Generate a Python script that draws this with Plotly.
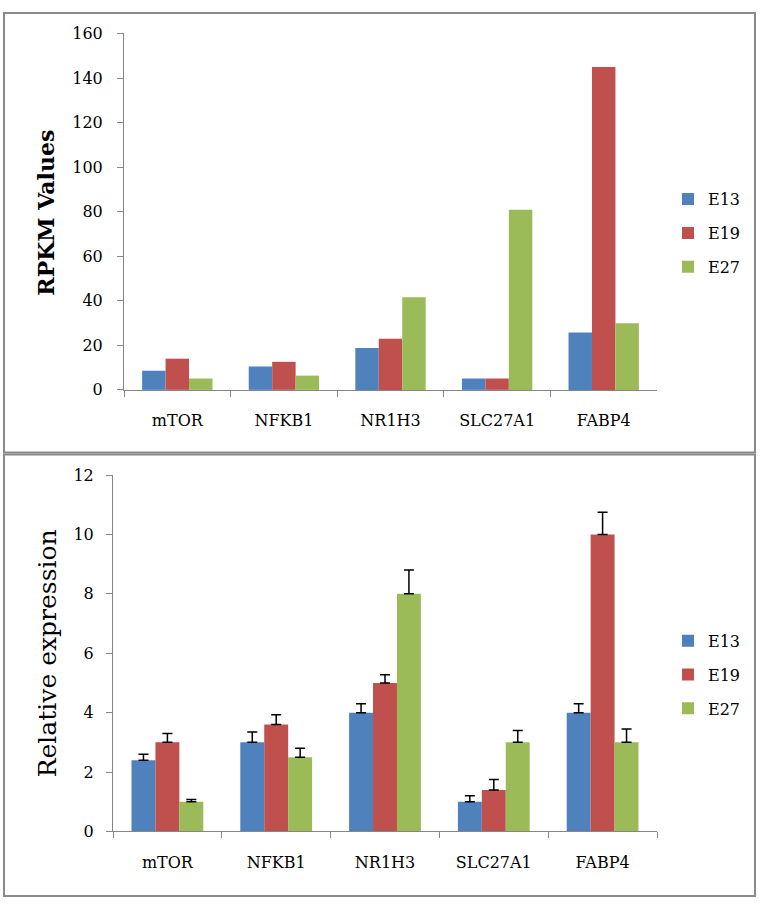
import plotly.graph_objects as go

categories = ["mTOR", "NFKB1", "NR1H3", "SLC27A1", "FABP4"]
series_names = ["E13", "E19", "E27"]
series_colors = ["#4F81BD", "#C0504D", "#9BBB59"]

# Top panel: RPKM values
rpkm_e13 = [8.6, 10.5, 18.8, 5.1, 25.8]
rpkm_e19 = [14.0, 12.6, 23.0, 5.1, 145.0]
rpkm_e27 = [5.1, 6.4, 41.6, 80.9, 29.9]

# Bottom panel: relative expression with upper error bars
rel_e13 = [2.4, 3.0, 4.0, 1.0, 4.0]
rel_e19 = [3.0, 3.6, 5.0, 1.4, 10.0]
rel_e27 = [1.0, 2.5, 8.0, 3.0, 3.0]
err_e13 = [0.2, 0.35, 0.3, 0.2, 0.3]
err_e19 = [0.3, 0.33, 0.28, 0.35, 0.75]
err_e27 = [0.08, 0.3, 0.8, 0.4, 0.45]

W, H = 760, 910
def px(x):
    return x / W
def py(y):
    return 1 - y / H

FONT = "DejaVu Serif"
AXC = "#868686"

fig = go.Figure()

top_vals = [rpkm_e13, rpkm_e19, rpkm_e27]
for name, col, vals in zip(series_names, series_colors, top_vals):
    fig.add_trace(go.Bar(x=categories, y=vals, name=name, marker_color=col,
                         marker_line_width=0, xaxis="x", yaxis="y",
                         legend="legend", legendgroup="t" + name))

bot_vals = [rel_e13, rel_e19, rel_e27]
bot_errs = [err_e13, err_e19, err_e27]
for name, col, vals, errs in zip(series_names, series_colors, bot_vals, bot_errs):
    fig.add_trace(go.Bar(x=categories, y=vals, name=name, marker_color=col,
                         marker_line_width=0, xaxis="x2", yaxis="y2",
                         legend="legend2", legendgroup="b" + name,
                         error_y=dict(type="data", symmetric=False, array=errs,
                                      arrayminus=[0] * len(errs),
                                      color="black", thickness=1.5, width=5)))

tickfont = dict(family=FONT, size=16, color="black")
common_x = dict(type="category", showline=True, linecolor=AXC, linewidth=1,
                ticks="outside", tickson="boundaries", ticklen=6, tickcolor=AXC,
                tickfont=tickfont, showgrid=False, zeroline=False,
                ticklabelstandoff=16)
common_y = dict(showline=True, linecolor=AXC, linewidth=1, ticks="outside",
                ticklen=6, tickcolor=AXC, tickfont=tickfont, showgrid=False,
                zeroline=False)

fig.update_layout(
    width=W, height=H,
    margin=dict(l=0, r=0, t=0, b=0),
    paper_bgcolor="white", plot_bgcolor="white",
    barmode="group", bargap=0.34, bargroupgap=0,
    xaxis=dict(domain=[px(124), px(657)], anchor="y", **common_x),
    yaxis=dict(domain=[py(389), py(25)], anchor="x", range=[0, 160],
               tickvals=[0, 20, 40, 60, 80, 100, 120, 140, 160],
               ticklabelstandoff=11, **common_y),
    xaxis2=dict(domain=[px(113), px(657)], anchor="y2", **common_x),
    yaxis2=dict(domain=[py(840), py(476)], anchor="x2", range=[0, 12],
                tickvals=[0, 2, 4, 6, 8, 10, 12],
                ticklabelstandoff=9, **common_y),
    legend=dict(x=px(668), y=py(229), xanchor="left", yanchor="middle",
                font=dict(family=FONT, size=16, color="black"),
                tracegroupgap=10, bgcolor="rgba(0,0,0,0)"),
    legend2=dict(x=px(668), y=py(680), xanchor="left", yanchor="middle",
                 font=dict(family=FONT, size=16, color="black"),
                 tracegroupgap=10, bgcolor="rgba(0,0,0,0)"),
    showlegend=True,
    shapes=[
        dict(type="rect", xref="paper", yref="paper", x0=px(4), x1=px(755),
             y0=py(453), y1=py(4), line=dict(color="#8a8a8a", width=2)),
        dict(type="rect", xref="paper", yref="paper", x0=px(4), x1=px(755),
             y0=py(906), y1=py(455), line=dict(color="#8a8a8a", width=2)),
    ],
    annotations=[
        dict(text="RPKM Values", xref="paper", yref="paper", x=px(46), y=py(208),
             xanchor="center", yanchor="middle", textangle=-90, showarrow=False,
             font=dict(family=FONT, size=22, color="black", weight="bold")),
        dict(text="Relative expression", xref="paper", yref="paper", x=px(47),
             y=py(658), xanchor="center", yanchor="middle", textangle=-90,
             showarrow=False, font=dict(family=FONT, size=25, color="black")),
    ],
)

fig.write_html(
    "out.html",
    config={"displayModeBar": False},
    post_script="document.body.style.margin='0';document.body.style.overflow='hidden';",
)
